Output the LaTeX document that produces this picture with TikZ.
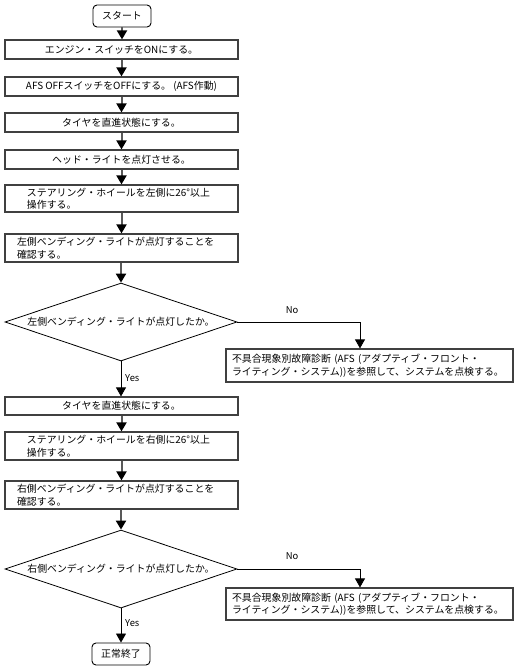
\documentclass[tikz,border=0pt]{standalone}
\usepackage{fontspec}
\setmainfont{Noto Sans CJK JP}
\usetikzlibrary{shapes.geometric,arrows.meta,positioning,calc}
\begin{document}
\begin{tikzpicture}[x=1pt,y=-1pt,
  every node/.style={font=\fontsize{9.9}{12.5}\selectfont},
  box/.style={draw=black!75, line width=1.2pt, minimum width=233pt, inner sep=0pt, align=center},
  lbox/.style={box, align=left, inner xsep=#1, text width=233pt-2*#1},
  fbox/.style={draw=black!75, line width=1.2pt, minimum width=287pt, inner xsep=6pt, text width=275pt, align=left},
  term/.style={draw=black, line width=0.9pt, rounded corners=4pt, minimum width=58pt, minimum height=22pt, inner sep=0pt},
  dec/.style={draw=black, line width=0.8pt, diamond, aspect=2.97, minimum width=232pt, minimum height=78pt, inner sep=0pt},
  arr/.style={draw=black!65, line width=2pt, -{Triangle[length=9pt,width=10pt,black]}},
  tarr/.style={draw=black, line width=0.8pt, -{Triangle[length=9pt,width=10pt,black]}},
  lab/.style={inner sep=0pt, font=\fontsize{9.4}{11}\selectfont}]
\useasboundingbox (0,0) rectangle (516,669);

\node[term] (start) at (122,16) {スタート};
\node[box, minimum height=19pt] (b1) at (121.5,49.5) {エンジン・スイッチをONにする。};
\node[box, minimum height=19pt] (b2) at (121.5,86.5) {AFS OFFスイッチをOFFにする。 (AFS作動)};
\node[box, minimum height=19pt] (b3) at (121.5,122.5) {タイヤを直進状態にする。};
\node[box, minimum height=19pt] (b4) at (121.5,159.5) {ヘッド・ライトを点灯させる。};
\node[lbox=22pt, minimum height=27pt] (b5) at (121.5,198.5) {ステアリング・ホイールを左側に26°以上\\操作する。};
\node[lbox=12pt, minimum height=28pt] (b6) at (121.5,248) {左側ベンディング・ライトが点灯することを\\確認する。};
\node[dec] (d1) at (121,322) {左側ベンディング・ライトが点灯したか。};
\node[fbox, minimum height=33pt] (f1) at (369.5,365.5) {不具合現象別故障診断 (AFS (アダプティブ・フロント・\\ライティング・システム))を参照して、システムを点検する。};
\node[box, minimum height=18pt] (b7) at (121.5,406) {タイヤを直進状態にする。};
\node[lbox=22pt, minimum height=28pt] (b8) at (121.5,446) {ステアリング・ホイールを右側に26°以上\\操作する。};
\node[lbox=12pt, minimum height=28pt] (b9) at (121.5,495) {右側ベンディング・ライトが点灯することを\\確認する。};
\node[dec] (d2) at (121,569) {右側ベンディング・ライトが点灯したか。};
\node[fbox, minimum height=32pt] (f2) at (369.5,604) {不具合現象別故障診断 (AFS (アダプティブ・フロント・\\ライティング・システム))を参照して、システムを点検する。};
\node[term] (end) at (121,654) {正常終了};

\draw[arr] (start) -- (start |- b1.north);
\draw[arr] (b1) -- (b1 |- b2.north);
\draw[arr] (b2) -- (b2 |- b3.north);
\draw[arr] (b3) -- (b3 |- b4.north);
\draw[arr] (b4) -- (b4 |- b5.north);
\draw[arr] (b5) -- (b5 |- b6.north);
\draw[arr] (b6.south -| d1.north) -- (d1.north);
\draw[tarr] (d1.south) -- (d1.south |- b7.north);
\draw[tarr] (d1.east) -| ([xshift=-9.5pt]f1.north);
\draw[arr] (b7) -- (b7 |- b8.north);
\draw[arr] (b8) -- (b8 |- b9.north);
\draw[arr] (b9.south -| d2.north) -- (d2.north);
\draw[tarr] (d2.east) -| ([xshift=-9.5pt]f2.north);
\draw[tarr] (d2.south) -- (end.north);

\node[lab] (no1) at (292,310) {No};
\node[lab, anchor=west] (yes1) at (125,378) {Yes};
\node[lab] (no2) at (292,556) {No};
\node[lab, anchor=west] (yes2) at (125,623) {Yes};
\end{tikzpicture}
\end{document}
